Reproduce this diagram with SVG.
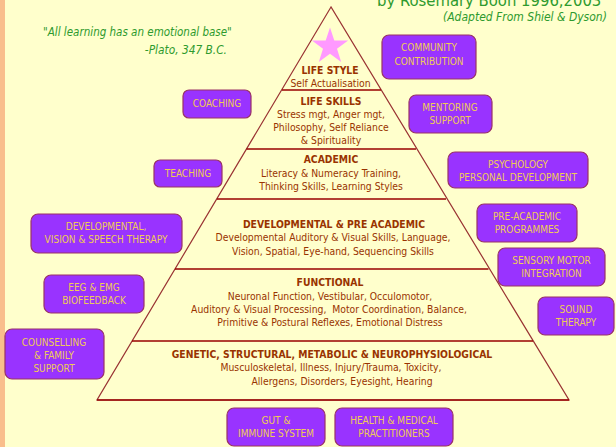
<svg xmlns="http://www.w3.org/2000/svg" width="616" height="447" viewBox="0 0 616 447">
<style>
text{font-family:"DejaVu Sans","Liberation Sans",sans-serif;font-stretch:condensed}
.box{fill:#9933FF;stroke:#993366;stroke-width:1.2}
.bt{font-size:10px;fill:#F0CC55;text-anchor:middle}
.tt{font-size:10.3px;font-weight:bold;fill:#993300;text-anchor:middle}
.pt{font-size:10.3px;fill:#993300;text-anchor:middle}
.gr{fill:#2E9A2E}
.div{stroke:#990000;stroke-width:1.3}
</style>
<rect x="0" y="0" width="616" height="447" fill="#FFFFCC"/>
<rect x="0" y="0" width="5" height="447" fill="#F9BE8C"/>

<g id="captions">
<text class="gr" x="377" y="6" font-size="16.5">by Rosemary Boon 1996,2003</text>
<text class="gr" x="443" y="21" font-size="12" font-style="italic">(Adapted From Shiel &amp; Dyson)</text>
<text class="gr" x="43" y="36" font-size="11.5" font-style="italic">"All learning has an emotional base"</text>
<text class="gr" x="227" y="54" font-size="11.8" font-style="italic" text-anchor="end">-Plato, 347 B.C.</text>
</g>

<g id="pyramid">
<polygon points="331,7 97,400 569,400" fill="#FFFFCC" stroke="#993333" stroke-width="1.2"/>
<polygon points="330,27.5 334.3,40.6 348.1,40.6 337,48.8 341.2,61.9 330,53.8 318.8,61.9 323,48.8 311.9,40.6 325.7,40.6" fill="#FF99FF"/>
<line class="div" x1="282" y1="90" x2="381" y2="90"/>
<line class="div" x1="246.5" y1="149" x2="416" y2="149"/>
<line class="div" x1="217" y1="199" x2="446" y2="199"/>
<line class="div" x1="175" y1="269" x2="488.5" y2="269"/>
<line class="div" x1="132" y1="341" x2="533" y2="341"/>
<line class="div" x1="97" y1="400" x2="569" y2="400"/>
</g>

<g id="lifestyle">
<text class="tt" x="330" y="74">LIFE STYLE</text>
<text class="pt" x="330.5" y="86.5">Self Actualisation</text>
</g>
<g id="lifeskills">
<text class="tt" x="331" y="105">LIFE SKILLS</text>
<text class="pt" x="331" y="118">Stress mgt, Anger mgt,</text>
<text class="pt" x="331" y="131">Philosophy, Self Reliance</text>
<text class="pt" x="331" y="144">&amp; Spirituality</text>
</g>
<g id="academic">
<text class="tt" x="331" y="163">ACADEMIC</text>
<text class="pt" x="331" y="177">Literacy &amp; Numeracy Training,</text>
<text class="pt" x="331" y="190">Thinking Skills, Learning Styles</text>
</g>
<g id="developmental">
<text class="tt" x="334" y="228">DEVELOPMENTAL &amp; PRE ACADEMIC</text>
<text class="pt" x="333" y="241">Developmental Auditory &amp; Visual Skills, Language,</text>
<text class="pt" x="333" y="255">Vision, Spatial, Eye-hand, Sequencing Skills</text>
</g>
<g id="functional">
<text class="tt" x="330" y="286">FUNCTIONAL</text>
<text class="pt" x="330" y="300">Neuronal Function, Vestibular, Occulomotor,</text>
<text class="pt" x="329" y="313" xml:space="preserve">Auditory &amp; Visual Processing,  Motor Coordination, Balance,</text>
<text class="pt" x="330" y="326">Primitive &amp; Postural Reflexes, Emotional Distress</text>
</g>
<g id="genetic">
<text class="tt" x="332" y="358">GENETIC, STRUCTURAL, METABOLIC &amp; NEUROPHYSIOLOGICAL</text>
<text class="pt" x="331" y="371">Musculoskeletal, Illness, Injury/Trauma, Toxicity,</text>
<text class="pt" x="342" y="385">Allergens, Disorders, Eyesight, Hearing</text>
</g>

<g id="connectors"></g>

<g id="community">
<rect class="box" x="382" y="35" width="94" height="44" rx="7"/>
<text class="bt" x="429" y="51">COMMUNITY</text>
<text class="bt" x="429" y="65">CONTRIBUTION</text>
</g>
<g id="mentoring">
<rect class="box" x="409" y="95" width="83" height="38" rx="7"/>
<text class="bt" x="450" y="111">MENTORING</text>
<text class="bt" x="450" y="124">SUPPORT</text>
</g>
<g id="psychology">
<rect class="box" x="448" y="152" width="140" height="36" rx="7"/>
<text class="bt" x="518" y="168">PSYCHOLOGY</text>
<text class="bt" x="518" y="181">PERSONAL DEVELOPMENT</text>
</g>
<g id="preacademic">
<rect class="box" x="477" y="204" width="100" height="38" rx="7"/>
<text class="bt" x="527" y="220">PRE-ACADEMIC</text>
<text class="bt" x="527" y="233">PROGRAMMES</text>
</g>
<g id="sensory">
<rect class="box" x="498" y="248" width="107" height="38" rx="7"/>
<text class="bt" x="551.5" y="264">SENSORY MOTOR</text>
<text class="bt" x="551.5" y="277">INTEGRATION</text>
</g>
<g id="sound">
<rect class="box" x="538" y="297" width="76" height="38" rx="7"/>
<text class="bt" x="576" y="313">SOUND</text>
<text class="bt" x="576" y="326">THERAPY</text>
</g>
<g id="coaching">
<rect class="box" x="183" y="90" width="68" height="28" rx="6"/>
<text class="bt" x="217" y="107">COACHING</text>
</g>
<g id="teaching">
<rect class="box" x="154" y="160" width="68" height="27" rx="6"/>
<text class="bt" x="188" y="177">TEACHING</text>
</g>
<g id="devtherapy">
<rect class="box" x="31" y="214" width="151" height="39" rx="7"/>
<text class="bt" x="106" y="230">DEVELOPMENTAL,</text>
<text class="bt" x="106" y="243">VISION &amp; SPEECH THERAPY</text>
</g>
<g id="eeg">
<rect class="box" x="44" y="275" width="100" height="38" rx="7"/>
<text class="bt" x="94" y="291">EEG &amp; EMG</text>
<text class="bt" x="94" y="304">BIOFEEDBACK</text>
</g>
<g id="counselling">
<rect class="box" x="5" y="329" width="99" height="50" rx="7"/>
<text class="bt" x="54" y="346">COUNSELLING</text>
<text class="bt" x="54" y="359">&amp; FAMILY</text>
<text class="bt" x="54" y="372">SUPPORT</text>
</g>
<g id="gut">
<rect class="box" x="227" y="408" width="98" height="38" rx="7"/>
<text class="bt" x="276" y="424">GUT &amp;</text>
<text class="bt" x="276" y="437">IMMUNE SYSTEM</text>
</g>
<g id="health">
<rect class="box" x="335" y="408" width="118" height="38" rx="7"/>
<text class="bt" x="394" y="424">HEALTH &amp; MEDICAL</text>
<text class="bt" x="394" y="437">PRACTITIONERS</text>
</g>
</svg>
